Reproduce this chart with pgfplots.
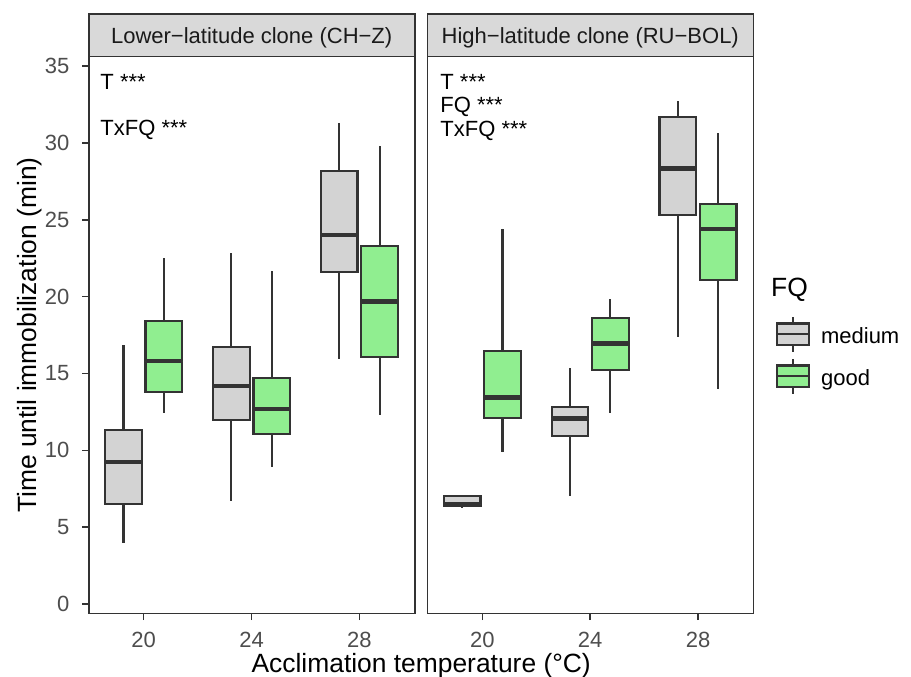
\documentclass[border=0pt]{standalone}
\usepackage{fontspec}
\setmainfont{Liberation Sans}
\usepackage{pgfplots}
\pgfplotsset{compat=1.18}
\usepgfplotslibrary{statistics}

\definecolor{grey10}{HTML}{1A1A1A}
\definecolor{grey20}{HTML}{333333}
\definecolor{grey30}{HTML}{4D4D4D}
\definecolor{grey85}{HTML}{D9D9D9}
\definecolor{medfill}{HTML}{D3D3D3}
\definecolor{goodfill}{HTML}{90EE90}

\newcommand{\smallfont}{\fontsize{22}{24}\selectfont}
\newcommand{\bigfont}{\fontsize{26.4}{30}\selectfont}

\tikzset{strip/.style={fill=grey85, draw=grey20, line width=1.6pt}}

\pgfplotsset{
  panel/.style={
    scale only axis, width=326pt, height=557pt,
    xmin=17.96, xmax=30.05, ymin=-0.63, ymax=35.61,
    axis line style={grey20, line width=1.6pt},
    tick align=outside, major tick length=6.5pt,
    every tick/.style={grey20, line width=1.5pt},
    xtick={20,24,28}, xtick pos=bottom, ytick pos=left,
    ticklabel style={font=\smallfont, text=grey30, inner sep=0pt},
    xticklabel style={anchor=north, yshift=-11.3pt},
    yticklabel style={anchor=east, xshift=-12.7pt},
    /pgf/number format/assume math mode=true,
    clip=false,
    boxplot/draw direction=y,
    boxplot/box extend=1.36,
    boxplot/whisker extend=0,
    boxplot/every box/.style={line width=2.2pt},
    boxplot/every whisker/.style={line width=2.2pt},
    boxplot/every median/.style={line width=4.8pt},
  },
  med/.style={fill=medfill, draw=grey20, line width=2.2pt, forget plot},
  good/.style={fill=goodfill, draw=grey20, line width=2.2pt, forget plot},
}

\begin{document}
\begin{tikzpicture}[x=1pt,y=1pt]
\useasboundingbox (0,0) rectangle (911,677);

% left panel: CH-Z
\begin{axis}[panel, at={(88.7pt,63.3pt)}, anchor=south west,
  ytick={0,5,10,15,20,25,30,35}]
\addplot[med, boxplot prepared={draw position=19.25, lower whisker=3.99, lower quartile=6.51, median=9.24, upper quartile=11.32, upper whisker=16.85}] coordinates {};
\addplot[good, boxplot prepared={draw position=20.75, lower whisker=12.43, lower quartile=13.77, median=15.81, upper quartile=18.41, upper whisker=22.49}] coordinates {};
\addplot[med, boxplot prepared={draw position=23.25, lower whisker=6.70, lower quartile=11.97, median=14.18, upper quartile=16.74, upper whisker=22.82}] coordinates {};
\addplot[good, boxplot prepared={draw position=24.75, lower whisker=8.91, lower quartile=11.04, median=12.69, upper quartile=14.70, upper whisker=21.69}] coordinates {};
\addplot[med, boxplot prepared={draw position=27.25, lower whisker=15.94, lower quartile=21.58, median=24.01, upper quartile=28.17, upper whisker=31.32}] coordinates {};
\addplot[good, boxplot prepared={draw position=28.75, lower whisker=12.30, lower quartile=16.05, median=19.67, upper quartile=23.29, upper whisker=29.82}] coordinates {};
\node[anchor=base west, inner sep=0pt, font=\smallfont] at (axis cs:18.39,33.49) {T ***};
\node[anchor=base west, inner sep=0pt, font=\smallfont] at (axis cs:18.39,30.5) {TxFQ ***};
\draw[strip] (rel axis cs:0,1) rectangle ++(326pt,42.7pt);
\node[anchor=base, inner sep=0pt, font=\smallfont, text=grey10, yshift=13.4pt] at (rel axis cs:0.5,1) {Lower−latitude clone (CH−Z)};
\end{axis}

% right panel: RU-BOL
\begin{axis}[panel, at={(427.3pt,63.3pt)}, anchor=south west,
  ytick=\empty,
  legend style={at={(1.0705,0.5229)}, anchor=north west, draw=none, fill=none,
    inner sep=0pt, outer sep=0pt, row sep=18.1pt, column sep=11pt, font=\smallfont,
    nodes={inner sep=0pt, text height=19.5pt, text depth=1.5pt}},
  legend cell align=left,
  legend image code/.code={
    \draw[#1] (0pt,-10.85pt) rectangle (31.6pt,10.85pt);
    \draw[#1] (0pt,0pt) -- (31.6pt,0pt);
    \draw[#1,overlay] (15.8pt,10.85pt) -- (15.8pt,17.5pt);
    \draw[#1,overlay] (15.8pt,-10.85pt) -- (15.8pt,-17.5pt);
  }]
\addlegendimage{fill=medfill, draw=grey20, line width=2.2pt}
\addlegendentry{medium}
\addlegendimage{fill=goodfill, draw=grey20, line width=2.2pt}
\addlegendentry{good}
\addplot[med, boxplot prepared={draw position=19.25, lower whisker=6.22, lower quartile=6.38, median=6.47, upper quartile=7.05, upper whisker=7.05}] coordinates {};
\addplot[good, boxplot prepared={draw position=20.75, lower whisker=9.87, lower quartile=12.12, median=13.42, upper quartile=16.46, upper whisker=24.42}] coordinates {};
\addplot[med, boxplot prepared={draw position=23.25, lower whisker=7.05, lower quartile=10.95, median=12.06, upper quartile=12.84, upper whisker=15.38}] coordinates {};
\addplot[good, boxplot prepared={draw position=24.75, lower whisker=12.45, lower quartile=15.20, median=16.96, upper quartile=18.59, upper whisker=19.84}] coordinates {};
\addplot[med, boxplot prepared={draw position=27.25, lower whisker=17.39, lower quartile=25.31, median=28.35, upper quartile=31.67, upper whisker=32.75}] coordinates {};
\addplot[good, boxplot prepared={draw position=28.75, lower whisker=13.97, lower quartile=21.08, median=24.40, upper quartile=26.02, upper whisker=30.62}] coordinates {};
\node[anchor=base west, inner sep=0pt, font=\smallfont] at (axis cs:18.44,33.49) {T ***};
\node[anchor=base west, inner sep=0pt, font=\smallfont] at (axis cs:18.44,31.97) {FQ ***};
\node[anchor=base west, inner sep=0pt, font=\smallfont] at (axis cs:18.44,30.45) {TxFQ ***};
\draw[strip] (rel axis cs:0,1) rectangle ++(326pt,42.7pt);
\node[anchor=base, inner sep=0pt, font=\smallfont, text=grey10, yshift=13.4pt] at (rel axis cs:0.5,1) {High−latitude clone (RU−BOL)};
\end{axis}

% legend title and axis titles
\node[anchor=base west, inner sep=0pt, font=\bigfont] at (771,380) {FQ};
\node[anchor=base, inner sep=0pt, font=\bigfont] at (421.2,4.3) {Acclimation temperature (°C)};
\node[anchor=base, inner sep=0pt, font=\bigfont, rotate=90] at (36.5,342) {Time until immobilization (min)};
\end{tikzpicture}
\end{document}
